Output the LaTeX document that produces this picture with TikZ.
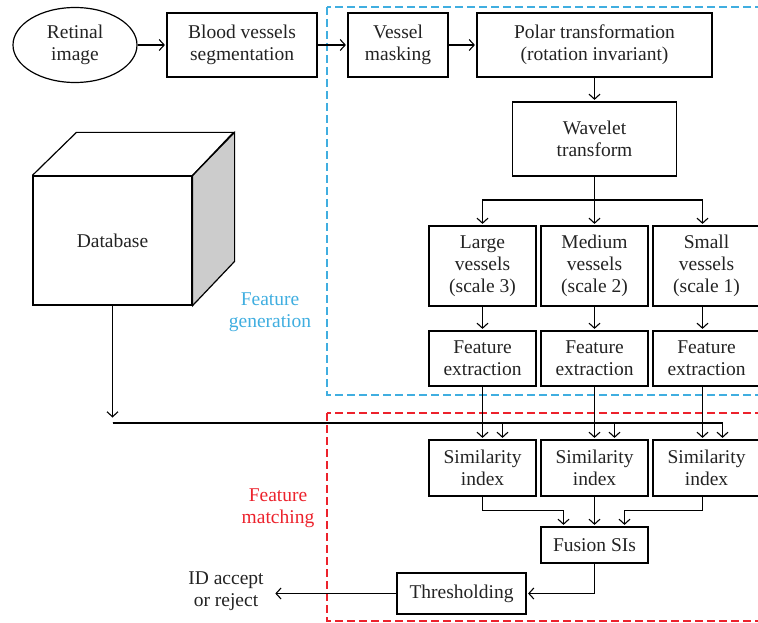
\documentclass[tikz,border=0pt]{standalone}
\usepackage{fontspec}
\setmainfont{Liberation Serif}
\usepackage{tikz}
\usetikzlibrary{arrows,arrows.meta,shapes}
\definecolor{genblue}{RGB}{64,174,224}
\definecolor{matchred}{RGB}{236,34,44}
\definecolor{dbgray}{RGB}{204,204,204}
\definecolor{txtgray}{RGB}{35,35,35}
\tikzstyle{block}=[draw,rectangle,line width=1.2pt,align=center,inner sep=0pt,text=txtgray]
\tikzstyle{link} = [draw,line width=1.1pt,->,shorten >=1.5pt]
\tikzstyle{region}=[line width=1.3pt,dash pattern=on 8pt off 4pt]

\begin{document}
\begin{tikzpicture}[x=1pt,y=-1pt,>={Straight Barb[length=5pt,width=11pt]},
    font=\fontsize{19.5}{22}\selectfont]
    \useasboundingbox (0,0) rectangle (758,623);

    % The two dashed regions and their labels
    \draw[region,genblue] (327,7) rectangle (775,395);
    \draw[region,matchred] (327,413) rectangle (775,621);
    \node[genblue,align=center] (genlabel) at (270,312) {Feature\\generation};
    \node[matchred,align=center] (matchlabel) at (278,508) {Feature\\matching};

    % First row: input and preprocessing
    \node[ellipse,draw,line width=1.2pt,minimum width=124pt,minimum height=75pt,
        inner sep=0pt,align=center,text=txtgray] (retina) at (75,45) {Retinal\\image};
    \node[block,minimum width=150pt,minimum height=64pt] (seg) at (242,45) {Blood vessels\\segmentation};
    \node[block,minimum width=100pt,minimum height=64pt] (mask) at (398,45) {Vessel\\masking};
    \node[block,minimum width=235pt,minimum height=64pt] (polar) at (594.5,45) {Polar transformation\\(rotation invariant)};
    \node[block,minimum width=164pt,minimum height=74pt] (wavelet) at (594.5,139) {Wavelet\\transform};

    % The database drawn as a box
    \node[block,minimum width=159pt,minimum height=129pt] (db) at (112.5,240.5) {Database};
    \filldraw[fill=dbgray,line width=1.2pt] (db.north east) -- ++(42,-43) -- ++(0,129) -- (db.south east) -- cycle;
    \draw[line width=1.2pt] (db.north west) -- ++(44,-43) -- ++(157,0) -- (db.north east);

    % One column per scale (\off moves the arrows off the centre)
    \foreach \x/\off/\name/\size/\sc in {482.5/0/large/Large/3, 594.5/0/medium/Medium/2, 706.5/-4/small/Small/1} {
        \node[block,minimum width=107pt,minimum height=80pt] (\name) at (\x,266) {\size\\vessels\\(scale \sc)};
        \node[block,minimum width=107pt,minimum height=55pt] (fe\name) at (\x,358.5) {Feature\\extraction};
        \node[block,minimum width=107pt,minimum height=56pt] (si\name) at (\x,468) {Similarity\\index};
    }
    \node[block,minimum width=107pt,minimum height=36pt] (fusion) at (594.5,545) {Fusion SIs};
    \node[block,minimum width=129pt,minimum height=41pt] (thresh) at (461.5,593.5) {Thresholding};
    \node[align=center,text=txtgray,inner xsep=10pt] (out) at (226,591) {ID accept\\or reject};

    % Connect the blocks
    \coordinate (split) at (594.5,200);
    \coordinate (dbjoin) at (112.5,419);
    \coordinate (bus) at (112.5,423);
    \foreach \source/\dest in {retina/seg, seg/mask, mask/polar, polar/wavelet}
        \path[link] (\source) -- (\dest);
    \draw[line width=1.1pt] (wavelet) -- (split);
    \path[link] (db) -- (dbjoin);
    \foreach \name/\off in {large/0,medium/0,small/-4} {
        \path[link] (split) -| ([xshift=\off pt]\name.north);
        \path[link] ([xshift=\off pt]\name.south) -- ([xshift=\off pt]fe\name.north);
        \path[link] ([xshift=\off pt]fe\name.south) -- ([xshift=\off pt]si\name.north);
        \path[link] (bus) -| ([xshift=\off pt+20pt]si\name.north);
    }
    \path[link] (silarge.south) -- ++(0,14) -| ([xshift=-31pt]fusion.north);
    \path[link] (simedium) -- (fusion);
    \path[link] ([xshift=-4pt]sismall.south) -- ++(0,14) -| ([xshift=30pt]fusion.north);
    \path[link] (fusion.south) |- (thresh.east);
    \path[link] (thresh.west) -- (thresh.west -| out.east);
\end{tikzpicture}
\end{document}
